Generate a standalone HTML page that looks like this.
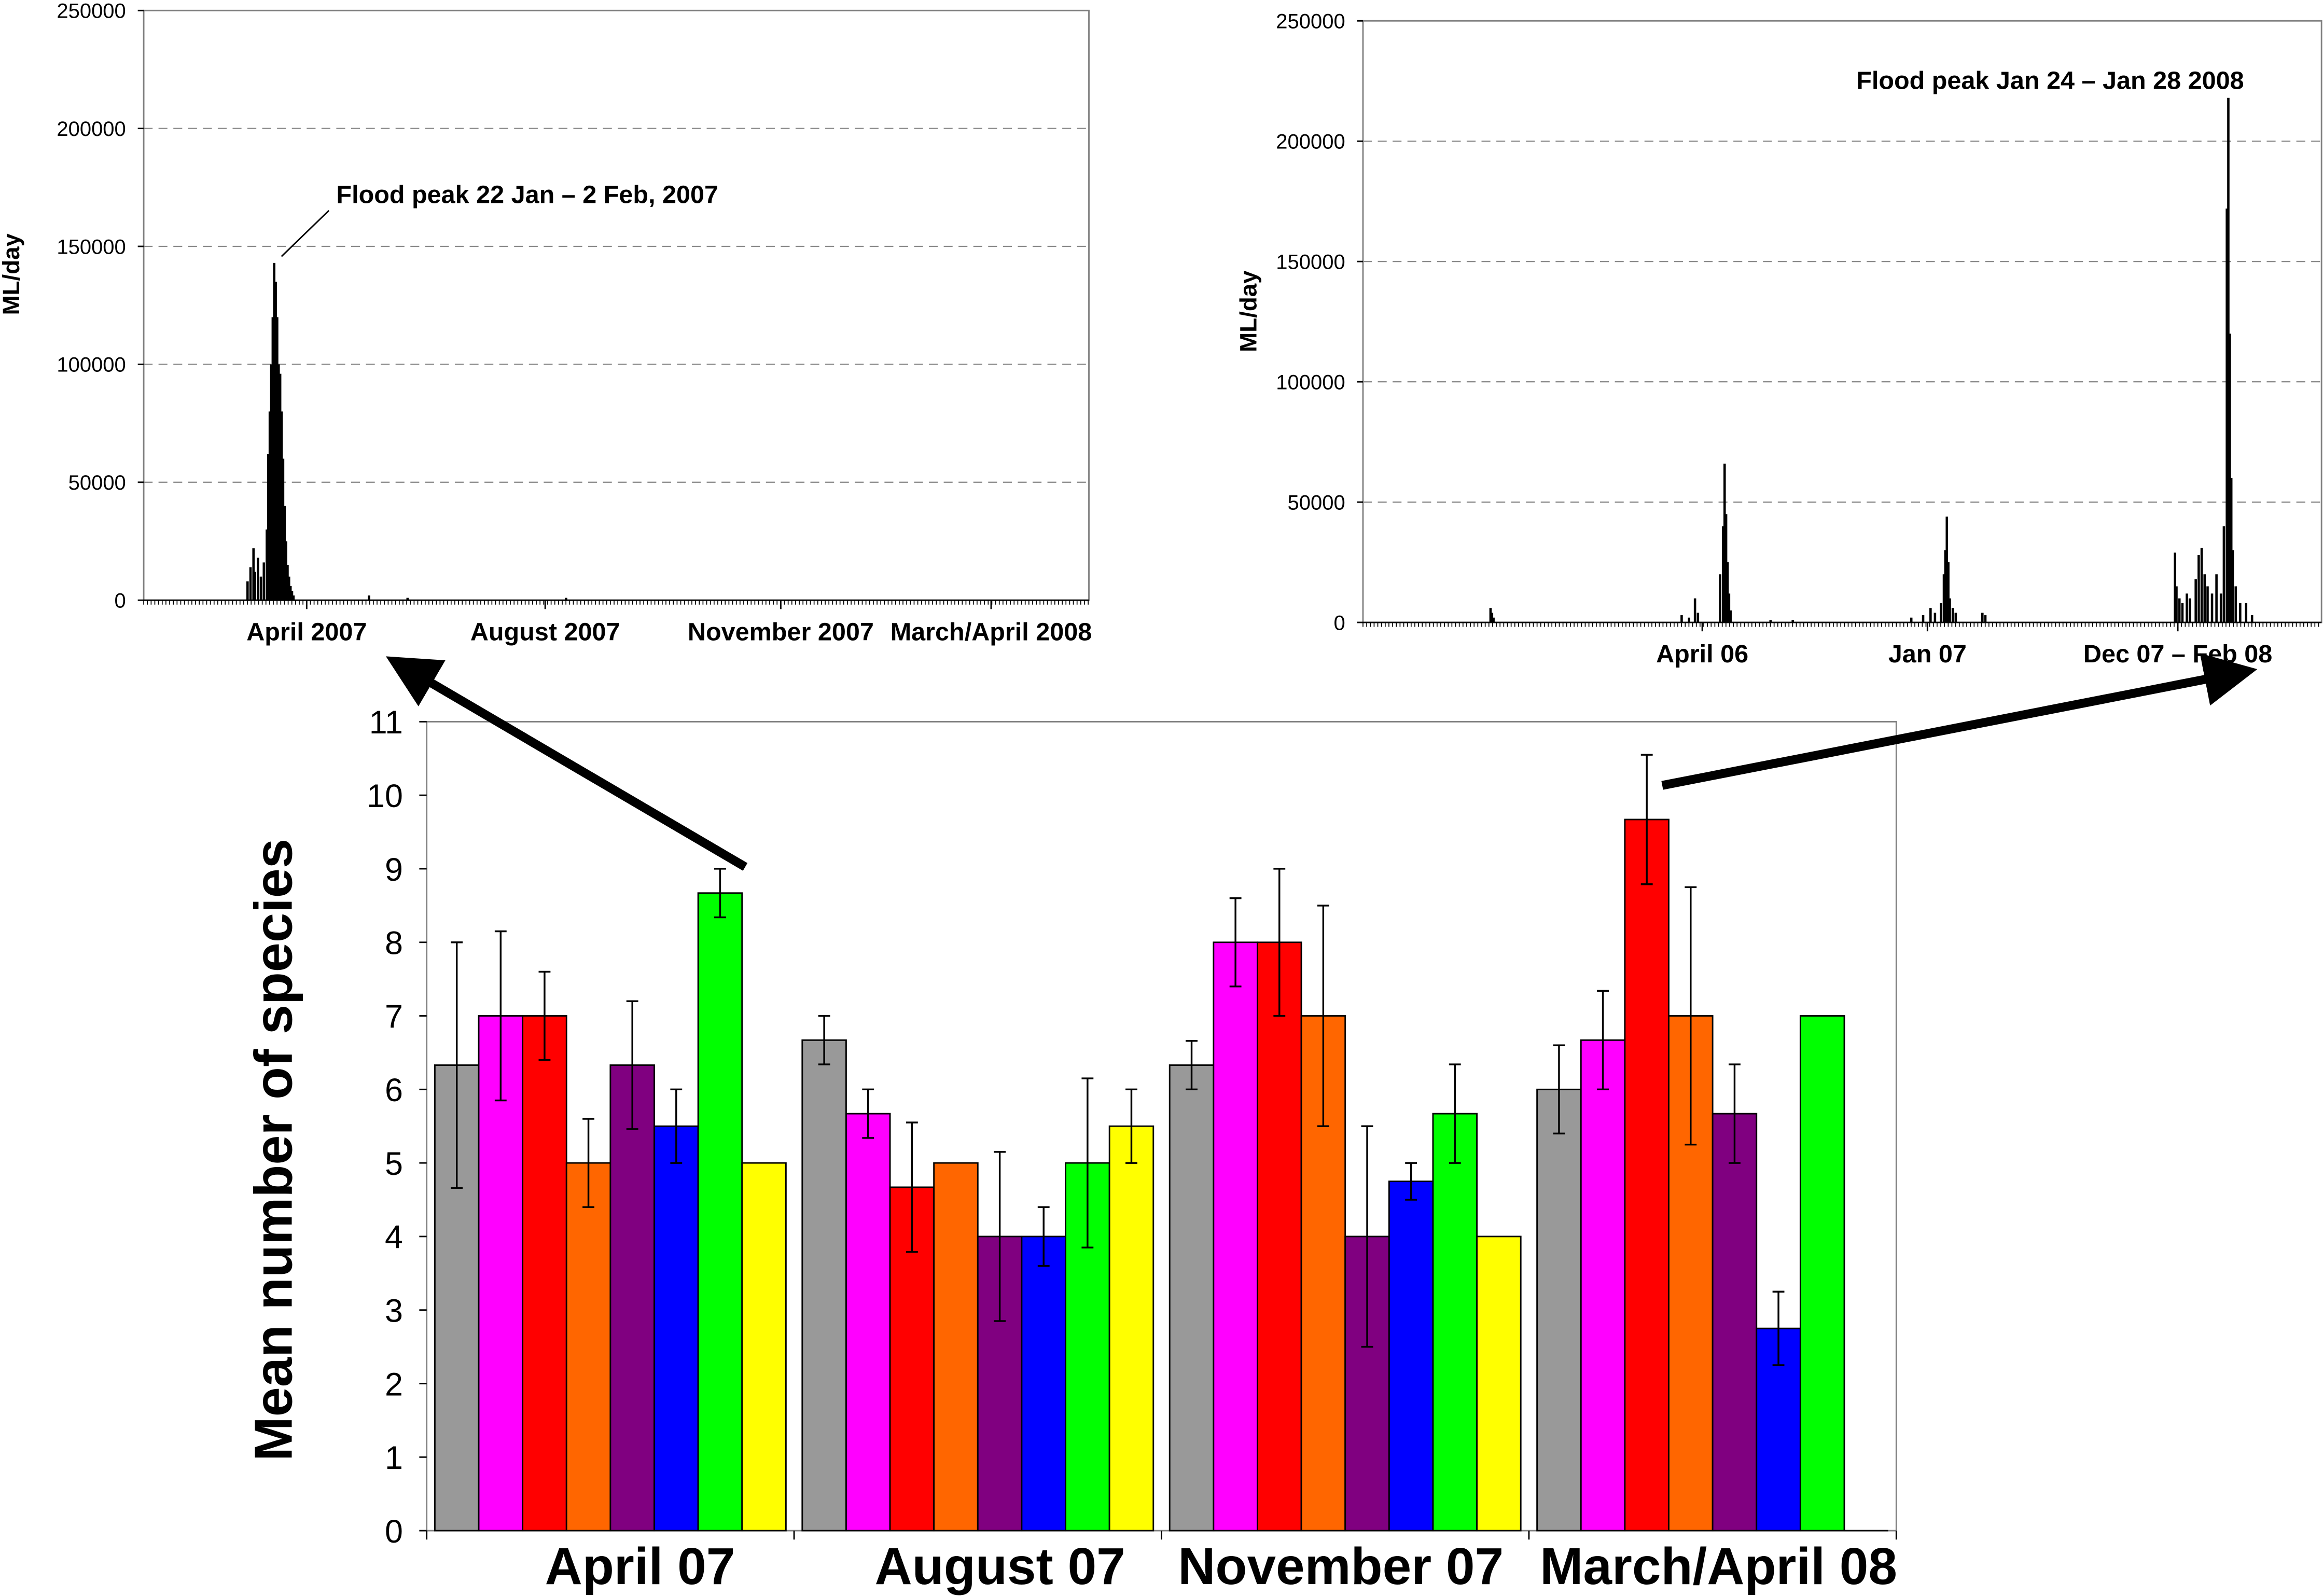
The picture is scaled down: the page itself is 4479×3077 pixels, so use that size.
<!DOCTYPE html>
<html><head><meta charset="utf-8">
<style>
html,body{margin:0;padding:0;background:#fff;}
svg{display:block;font-family:"Liberation Sans",Arial,sans-serif;}
</style></head>
<body>
<svg id="c" width="4479" height="3077" viewBox="0 0 1568 1077" xmlns="http://www.w3.org/2000/svg">
<defs>
<marker id="ah" markerWidth="6" markerHeight="6" refX="3" refY="3" orient="auto" markerUnits="strokeWidth">
<path d="M0,0 L6,3 L0,6 z" fill="#000"/></marker>
</defs>
<g id="main"></g>
<g id="left"></g>
<g id="right"></g>
<line x1="503" y1="585" x2="276" y2="452" stroke="#000" stroke-width="6" marker-end="url(#ah)"/>
<line x1="1122" y1="530" x2="1506" y2="455" stroke="#000" stroke-width="6" marker-end="url(#ah)"/>
</svg>
<script>
// ---- main chart data ----
const groups = ["April 07","August 07","November 07","March/April 08"];
const seriesColors = ["#999999","#ff00ff","#ff0000","#ff6600","#800080","#0000ff","#00ff00","#ffff00"];
const apr07 = [6.33,7,7,5,6.33,5.5,8.67,5];
const aug07 = [6.67,5.67,4.67,5,4,4,5,5.5];
const nov07 = [6.33,8,8,7,4,4.75,5.67,4];
const mar08 = [6,6.67,9.67,7,5.67,2.75,7,0];
const apr07Err = [1.67,1.15,0.6,0.6,0.87,0.5,0.33,0];
const aug07Err = [0.33,0.33,0.88,0,1.15,0.4,1.15,0.5];
const nov07Err = [0.33,0.6,1,1.5,1.5,0.25,0.67,0];
const mar08Err = [0.6,0.67,0.88,1.75,0.67,0.5,0,0];
const yTicks = [0,1,2,3,4,5,6,7,8,9,10,11];
// ---- flow chart data (day index, ML/day) ----
const flowDaysL = [70,72,74,75,77,79,81,83,84,85,86,87,88,89,90,91,92,93,94,95,96,97,98,99,100,101,152,178,285];
const flowValsL = [8000,14000,22000,12000,18000,10000,16000,30000,62000,80000,100000,120000,143000,135000,120000,100000,96000,80000,60000,40000,25000,15000,10000,6000,4000,2000,2000,1000,1000];
const flowDaysR = [86,87,88,215,220,224,226,241,243,244,245,246,247,248,275,290,370,378,383,386,390,392,393,394,395,396,398,400,418,420,548,549,551,553,556,558,562,564,566,568,570,573,576,579,581,583,584,585,586,587,589,592,596,600];
const flowValsR = [6000,4000,2000,3000,2000,10000,4000,20000,40000,66000,45000,25000,12000,5000,1000,1000,2000,3000,6000,4000,8000,20000,30000,44000,25000,10000,6000,4000,4000,3000,29000,15000,10000,8000,12000,10000,18000,28000,31000,20000,15000,12000,20000,12000,40000,172000,218000,120000,60000,30000,15000,8000,8000,3000];
const flowTicks = [0,50000,100000,150000,200000,250000];
const labelsL = ["April 2007","August 2007","November 2007","March/April 2008"];
const labelsR = ["April 06","Jan 07","Dec 07 – Feb 08"];

const NS="http://www.w3.org/2000/svg";
function mk(parent,tag,attrs,text){const e=document.createElementNS(NS,tag);for(const k in attrs)e.setAttribute(k,attrs[k]);if(text!==undefined)e.textContent=text;parent.appendChild(e);return e;}

// ---- main chart ----
(function(){
const g=document.getElementById('main');
const X0=288,X1=1280,Y0=1033,Y1=487,yMax=11;
const y=v=>Y0-(v/yMax)*(Y0-Y1);
const gw=(X1-X0)/groups.length, pad=5.5, bw=(gw-2*pad)/8;
const labelCenters=[432,675,905,1160];
let r=mk(g,'rect',{x:X0,y:Y1,width:X1-X0,height:Y0-Y1,fill:'none',stroke:'#808080','stroke-width':1});


yTicks.forEach(t=>{
 let tk=mk(g,'line',{x1:X0-5,x2:X0,y1:y(t),y2:y(t),stroke:'#000'});
 
 
 let tl=mk(g,'text',{x:272,y:y(t)+8,'font-size':22,'text-anchor':'end'},String(t));
 
 
});
let at=mk(g,'text',{transform:'translate(197,776) rotate(-90)','font-size':36,'font-weight':'bold','text-anchor':'middle'},'Mean number of species');


const vals=[apr07,aug07,nov07,mar08], errs=[apr07Err,aug07Err,nov07Err,mar08Err];
groups.forEach((gn,gi)=>{
 const gx=X0+gi*gw;
 let sep=mk(g,'line',{x1:gx,x2:gx,y1:Y0,y2:Y0+6,stroke:'#000'});
 
 
 vals[gi].forEach((v,si)=>{
  const bx=gx+pad+si*bw;
  if(v>0){
   let b=mk(g,'rect',{x:bx,y:y(v),width:bw,height:Y0-y(v),fill:seriesColors[si],stroke:'#000','stroke-width':1});
   
   
  } else {
   mk(g,'line',{x1:bx,x2:bx+bw,y1:Y0,y2:Y0,stroke:'#000'});
  }
  const e=errs[gi][si];
  if(e>0){
   const cx=bx+bw/2;
   let eb=mk(g,'path',{d:`M${cx},${y(v+e)}V${y(v-e)}M${cx-4},${y(v+e)}H${cx+4}M${cx-4},${y(v-e)}H${cx+4}`,stroke:'#000','stroke-width':1.2,fill:'none'});
   
   
  }
 });
 let xl=mk(g,'text',{x:labelCenters[gi],y:1069,'font-size':35,'font-weight':'bold','text-anchor':'middle'},gn);
 
 
});
mk(g,'line',{x1:X1,x2:X1,y1:Y0,y2:Y0+6,stroke:'#000'});
})();

// ---- flow charts ----
function flowChart(id,X0,X1,Y0,Y1,days,vals,labels,labelXs,ylabX,ylabY,ann,annX,annY,leader){
 const g=document.getElementById(id);
 const y=v=>Y0-(v/250000)*(Y0-Y1);
 const x=d=>X0+d;
 let r=mk(g,'rect',{x:X0,y:Y1,width:X1-X0,height:Y0-Y1,fill:'none',stroke:'#808080'});
 
 
 flowTicks.forEach(t=>{
  if(t>0&&t<250000){
   let gl=mk(g,'line',{x1:X0,x2:X1,y1:y(t),y2:y(t),stroke:'#888','stroke-dasharray':'6,4','stroke-width':0.8});
   
   
  }
  mk(g,'line',{x1:X0-4,x2:X0,y1:y(t),y2:y(t),stroke:'#000'});
  let tl=mk(g,'text',{x:X0-12,y:y(t)+5,'font-size':14,'text-anchor':'end'},String(t));
  
  
 });
 mk(g,'line',{x1:X0,x2:X1,y1:Y0,y2:Y0,stroke:'#000'});
 for(let px=X0;px<=X1;px+=2.5){mk(g,'line',{x1:px,x2:px,y1:Y0,y2:Y0+3,stroke:'#000','stroke-width':0.6});}
 days.forEach((d,i)=>{
  let b=mk(g,'rect',{x:x(d)-0.7,y:y(vals[i]),width:1.6,height:Y0-y(vals[i]),fill:'#000'});
  
  
 });
 labels.forEach((l,i)=>{
  let t=mk(g,'text',{x:labelXs[i],y:Y0+27,'font-size':17,'font-weight':'bold','text-anchor':'middle'},l);
  
  
  mk(g,'line',{x1:labelXs[i],x2:labelXs[i],y1:Y0,y2:Y0+6,stroke:'#000'});
 });
 let yl=mk(g,'text',{transform:`translate(${ylabX},${ylabY}) rotate(-90)`,'font-size':16,'font-weight':'bold','text-anchor':'middle'},'ML/day');
 
 
 let an=mk(g,'text',{x:annX,y:annY,'font-size':17,'font-weight':'bold'},ann);
 
 
 if(leader)mk(g,'line',{x1:leader[0],y1:leader[1],x2:leader[2],y2:leader[3],stroke:'#000'});
}
flowChart('left',97,735,405,7,flowDaysL,flowValsL,labelsL,[207,368,527,669],13,185,'Flood peak 22 Jan – 2 Feb, 2007',227,137,[222,142,190,173]);
flowChart('right',920,1567,420,14,flowDaysR,flowValsR,labelsR,[1149,1301,1470],848,210,'Flood peak Jan 24 – Jan 28 2008',1253,60,null);
</script>
</body></html>
